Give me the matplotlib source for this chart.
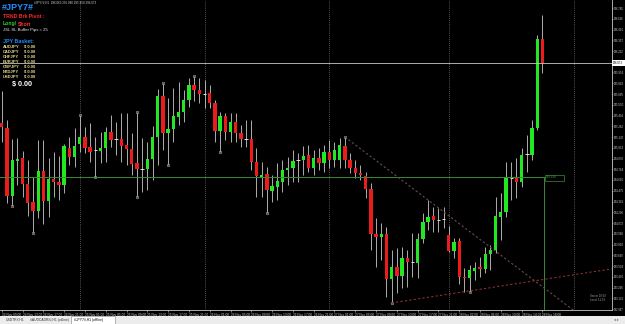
import numpy as np
import matplotlib
matplotlib.use('Agg')
import matplotlib.pyplot as plt
from matplotlib.patches import Rectangle

plt.rcParams['font.family'] = ['Liberation Sans', 'DejaVu Sans']

# H1 bars of the #JPY7# basket (24 Nov 09:00 .. 28 Nov 18:00)
opens = [295.323, 295.26, 294.41, 294.848, 294.885, 294.56, 294.335, 294.223, 294.723, 294.348,
         294.623, 294.585, 294.548, 295.01, 294.898, 295.06, 295.148, 295.023, 294.985, 294.973,
         295.01, 295.21, 295.123, 295.123, 295.048, 294.998, 294.823, 294.748, 294.748, 294.873,
         295.148, 295.66, 295.198, 295.248, 295.398, 295.46, 295.61, 295.798, 295.735, 295.685,
         295.698, 295.573, 295.223, 295.41, 295.21, 295.335, 295.198, 295.123, 295.123, 294.835,
         294.635, 294.685, 294.473, 294.523, 294.585, 294.735, 294.76, 294.86, 294.86, 294.923,
         294.76, 294.885, 294.823, 294.96, 294.86, 294.86, 295.035, 294.86, 294.76, 294.698,
         294.66, 294.498, 293.935, 293.898, 293.935, 293.373, 293.523, 293.41, 293.635, 293.585,
         293.573, 293.873, 294.085, 294.16, 294.11, 294.123, 293.923, 293.723, 293.848, 293.398,
         293.385, 293.473, 293.523, 293.498, 293.685, 293.735, 294.148, 294.21, 294.635, 294.635,
         294.585, 294.935, 294.923, 295.26, 296.373]
highs = [295.723, 295.36, 295.123, 295.135, 294.973, 294.86, 294.648, 295.11, 295.11, 294.885,
         294.96, 294.91, 295.06, 295.148, 295.26, 295.423, 295.273, 295.323, 295.148, 295.21,
         295.273, 295.423, 295.335, 295.448, 295.448, 295.198, 295.46, 295.135, 295.085, 295.285,
         295.748, 295.823, 295.635, 295.76, 295.835, 295.735, 295.885, 295.91, 295.885, 295.86,
         295.798, 295.61, 295.46, 295.448, 295.448, 295.448, 295.298, 295.36, 295.36, 295.01,
         294.835, 294.773, 294.673, 294.823, 294.86, 294.898, 294.985, 294.948, 295.035, 295.048,
         294.985, 295.01, 295.048, 295.11, 295.085, 295.135, 295.148, 294.948, 294.86, 294.798,
         294.71, 294.573, 294.135, 294.073, 294.023, 293.735, 293.76, 293.773, 293.735, 293.948,
         293.948, 294.198, 294.36, 294.273, 294.26, 294.273, 294.035, 293.885, 293.885, 293.51,
         293.548, 293.585, 293.648, 293.773, 293.798, 294.398, 294.448, 294.835, 294.835, 294.885,
         295.01, 295.173, 295.36, 296.423, 296.673]
lows = [295.085, 294.323, 294.285, 294.548, 294.398, 294.16, 293.948, 294.135, 294.06, 294.148,
        294.398, 294.36, 294.448, 294.798, 294.773, 294.96, 294.948, 294.835, 294.648, 294.823,
        294.835, 295.023, 294.923, 294.835, 294.798, 294.673, 294.398, 294.46, 294.485, 294.61,
        294.798, 294.985, 294.798, 295.085, 295.298, 295.335, 295.523, 295.598, 295.573, 295.51,
        295.51, 295.085, 294.96, 295.11, 295.085, 295.085, 295.023, 295.023, 294.735, 294.398,
        294.398, 294.198, 294.335, 294.36, 294.46, 294.548, 294.585, 294.585, 294.673, 294.71,
        294.673, 294.735, 294.71, 294.76, 294.773, 294.76, 294.76, 294.698, 294.635, 294.61,
        294.385, 293.735, 293.523, 293.61, 293.148, 293.073, 293.198, 293.26, 293.273, 293.398,
        293.385, 293.823, 293.985, 293.96, 293.96, 294.01, 293.71, 293.635, 293.31, 293.21,
        293.21, 293.36, 293.398, 293.448, 293.485, 293.698, 293.86, 294.148, 294.36, 294.385,
        294.523, 294.71, 294.86, 295.235, 295.948]
closes = [295.273, 294.41, 294.86, 294.873, 294.56, 294.323, 294.223, 294.723, 294.348, 294.623,
          294.585, 294.548, 295.035, 294.898, 295.035, 295.148, 295.01, 294.96, 294.985, 295.01,
          295.21, 295.11, 295.123, 295.035, 294.998, 294.81, 294.748, 294.748, 294.873, 295.148,
          295.66, 295.198, 295.248, 295.41, 295.46, 295.61, 295.798, 295.735, 295.685, 295.685,
          295.573, 295.223, 295.41, 295.21, 295.335, 295.198, 295.123, 295.123, 294.835, 294.66,
          294.673, 294.485, 294.535, 294.598, 294.735, 294.76, 294.848, 294.86, 294.91, 294.76,
          294.885, 294.823, 294.96, 294.86, 294.985, 295.048, 294.86, 294.76, 294.698, 294.673,
          294.498, 293.935, 293.898, 293.935, 293.373, 293.523, 293.41, 293.635, 293.585, 293.585,
          293.873, 294.085, 294.148, 294.11, 294.11, 294.123, 293.723, 293.835, 293.398, 293.385,
          293.485, 293.51, 293.498, 293.685, 293.735, 294.16, 294.21, 294.635, 294.635, 294.585,
          294.923, 294.935, 295.26, 296.373, 296.073]

# bar index of each daily period separator
separators = [15, 39, 63, 86, 110]

tick_bars = [0, 4, 8, 12, 16, 20, 24, 28, 32, 36, 40, 44, 48, 52, 56, 60, 64, 68, 72, 76, 80, 84,
             88, 92, 96, 100, 104]
tick_labels = ['24 Nov 09:00', '24 Nov 13:00', '24 Nov 17:00', '24 Nov 21:00', '25 Nov 01:00',
               '25 Nov 05:00', '25 Nov 09:00', '25 Nov 13:00', '25 Nov 17:00', '25 Nov 21:00',
               '26 Nov 01:00', '26 Nov 05:00', '26 Nov 09:00', '26 Nov 13:00', '26 Nov 17:00',
               '26 Nov 21:00', '27 Nov 01:00', '27 Nov 05:00', '27 Nov 09:00', '27 Nov 13:00',
               '27 Nov 17:00', '27 Nov 21:00', '28 Nov 02:00', '28 Nov 06:00', '28 Nov 10:00',
               '28 Nov 14:00', '28 Nov 18:00']

# fractal dots
fractal_bars = [2, 6, 15, 18, 26, 26, 31, 32, 37, 42, 51, 66, 75, 90]
fractal_prices = [294.285, 293.948, 295.423, 294.648, 295.46, 294.398, 295.823, 294.798,
                  295.91, 294.96, 294.198, 295.148, 293.073, 293.21]

green_level = 294.648
cursor_price = 296.073
down_x, down_y = [66, 110], [295.148, 292.98]
up_x, up_y = [75, 117.4], [293.073, 293.50]

pairs = ['AUDJPY', 'CADJPY', 'CHFJPY', 'EURJPY', 'GBPJPY', 'NZDJPY', 'USDJPY']
pair_pnl = ['$ 0.00'] * 7

W, H = 625, 324
fig = plt.figure(figsize=(6.25, 3.24), dpi=100, facecolor='black')
ax = fig.add_axes([0, 14 / H, 612 / W, 310 / H], facecolor='black')

idx = np.arange(len(opens))
o = np.array(opens); c = np.array(closes)
ax.vlines(idx, lows, highs, color='#c8c8c8', lw=0.6, zorder=2)
up = c > o
dn = c < o
ax.bar(idx[up], (c - o)[up], bottom=o[up], width=0.62, color='#22e822', lw=0, zorder=3)
ax.bar(idx[dn], (o - c)[dn], bottom=c[dn], width=0.62, color='#ec1c1c', lw=0, zorder=3)
flat = c == o
ax.hlines(o[flat], idx[flat] - 0.32, idx[flat] + 0.32, color='#e0e0e0', lw=0.7, zorder=3)

ax.plot(fractal_bars, fractal_prices, 'o', ms=1.8, mfc='none', mec='#9a9a9a', mew=0.5, zorder=4)

for s in separators:
    ax.axvline(s, color='#a0a0a0', lw=0.5, ls=(0, (1, 2)), zorder=1)

ax.plot([-1, 104.3], [green_level, green_level], color='#3a8a3a', lw=0.7, zorder=4)
ax.plot([104.3, 104.3], [green_level, 292.0], color='#3a8a3a', lw=0.7, zorder=4)
ax.axhline(cursor_price, color='#c8c8c8', lw=0.6, zorder=4)
ax.plot(down_x, down_y, color='#6e4a4a', lw=0.8, ls=(0, (2, 2)), zorder=4)
ax.plot(up_x, up_y, color='#8c3030', lw=0.8, ls=(0, (2, 2)), zorder=4)

ax.set_xlim(-0.33, 117.37)
ax.set_ylim(292.985, 296.86)

# right price scale; the tick under the cursor box is left out
price_ticks = np.round(296.76 - 0.1344 * np.arange(29), 3)
price_ticks = price_ticks[np.abs(price_ticks - cursor_price) > 0.06]
ax.yaxis.tick_right()
ax.set_yticks(price_ticks)
ax.set_yticklabels(['%.3f' % p for p in price_ticks])
ax.set_xticks(tick_bars)
ax.set_xticklabels(tick_labels, ha='left')
ax.tick_params(axis='both', colors='#d0d0d0', labelsize=2.3, length=1.5, width=0.4, pad=1)
ax.tick_params(axis='y', labelsize=2.0, length=1.0, pad=0.5)
for sp in ['top', 'left']:
    ax.spines[sp].set_visible(False)
for sp in ['right', 'bottom']:
    ax.spines[sp].set_color('#c8c8c8')
    ax.spines[sp].set_linewidth(0.6)


def fx(x, y):
    return x / W, 1 - y / H


# overlay texts
fig.text(*fx(34, 3), '#JPY7#,H1  296.063 296.080 295.950 296.073', color='#d0d0d0',
         fontsize=2.2, va='center')
fig.text(*fx(2, 7.5), '#JPY7#', color='#1e90ff', fontsize=6.5, fontweight='bold', va='center')
fig.text(*fx(3, 16.5), 'TRND Brk Pivot :', color='#ff2a2a', fontsize=3.7, fontweight='bold',
         va='center')
fig.text(*fx(3, 24), 'Long/', color='#32cd32', fontsize=3.7, fontweight='bold', va='center')
fig.text(*fx(18, 24), 'Short', color='#ff3030', fontsize=3.7, fontweight='bold', va='center')
fig.text(*fx(3, 30), 'JSL SL Buffer Pips = 25', color='#e8e8e8', fontsize=3.1, va='center')
fig.text(*fx(3, 41.5), 'JPY Basket:', color='#1e90ff', fontsize=3.9, fontweight='bold',
         va='center')
for k, (name, pnl) in enumerate(zip(pairs, pair_pnl)):
    yy = 47.3 + k * 4.9
    fig.text(*fx(3, yy), name, color='#e6dc8c', fontsize=3.0, fontweight='bold', va='center')
    fig.text(*fx(24, yy), pnl, color='#e6dc8c', fontsize=3.0, fontweight='bold', va='center')
fig.text(*fx(12, 84.5), '$ 0.00', color='white', fontsize=5.2, fontweight='bold', va='center')

# green price label and cursor price box
fig.patches.append(Rectangle(fx(545, 180.5), 19 / W, 6 / H, transform=fig.transFigure,
                             facecolor='black', edgecolor='#3a8a3a', lw=0.5))
fig.text(*fx(546, 177.5), '%.3f' % green_level, color='#3a9a3a', fontsize=2.2, va='center')
fig.patches.append(Rectangle(fx(612, 66), 13 / W, 6 / H, transform=fig.transFigure,
                             facecolor='white', edgecolor='none'))
fig.text(*fx(613, 63), '%.3f' % cursor_price, color='black', fontsize=2.0, va='center')

fig.text(*fx(590, 296), 'Server 18:59', color='#a0a0a0', fontsize=2.0, va='center')
fig.text(*fx(590, 300), 'Local  11:59', color='#a0a0a0', fontsize=2.0, va='center')

# tab bar
fig.patches.append(Rectangle((0, 0), 1, 8 / H, transform=fig.transFigure,
                             facecolor='#ececec', edgecolor='none'))
fig.patches.append(Rectangle(fx(71, 324), 44 / W, 8 / H, transform=fig.transFigure,
                             facecolor='white', edgecolor='#808080', lw=0.4))
fig.text(*fx(6, 320), 'USDTRY,H1', color='#333333', fontsize=2.4, va='center')
fig.text(*fx(30, 320), '#AUDCADRSI,H1 (offline)', color='#333333', fontsize=2.4, va='center')
fig.text(*fx(74, 320), '#JPY7#,H1 (offline)', color='black', fontsize=2.4, va='center')
fig.text(*fx(614, 320), '\u25c2 \u25b8', color='#606060', fontsize=2.6, va='center')

fig.savefig('out.png', dpi=100, facecolor='black')
